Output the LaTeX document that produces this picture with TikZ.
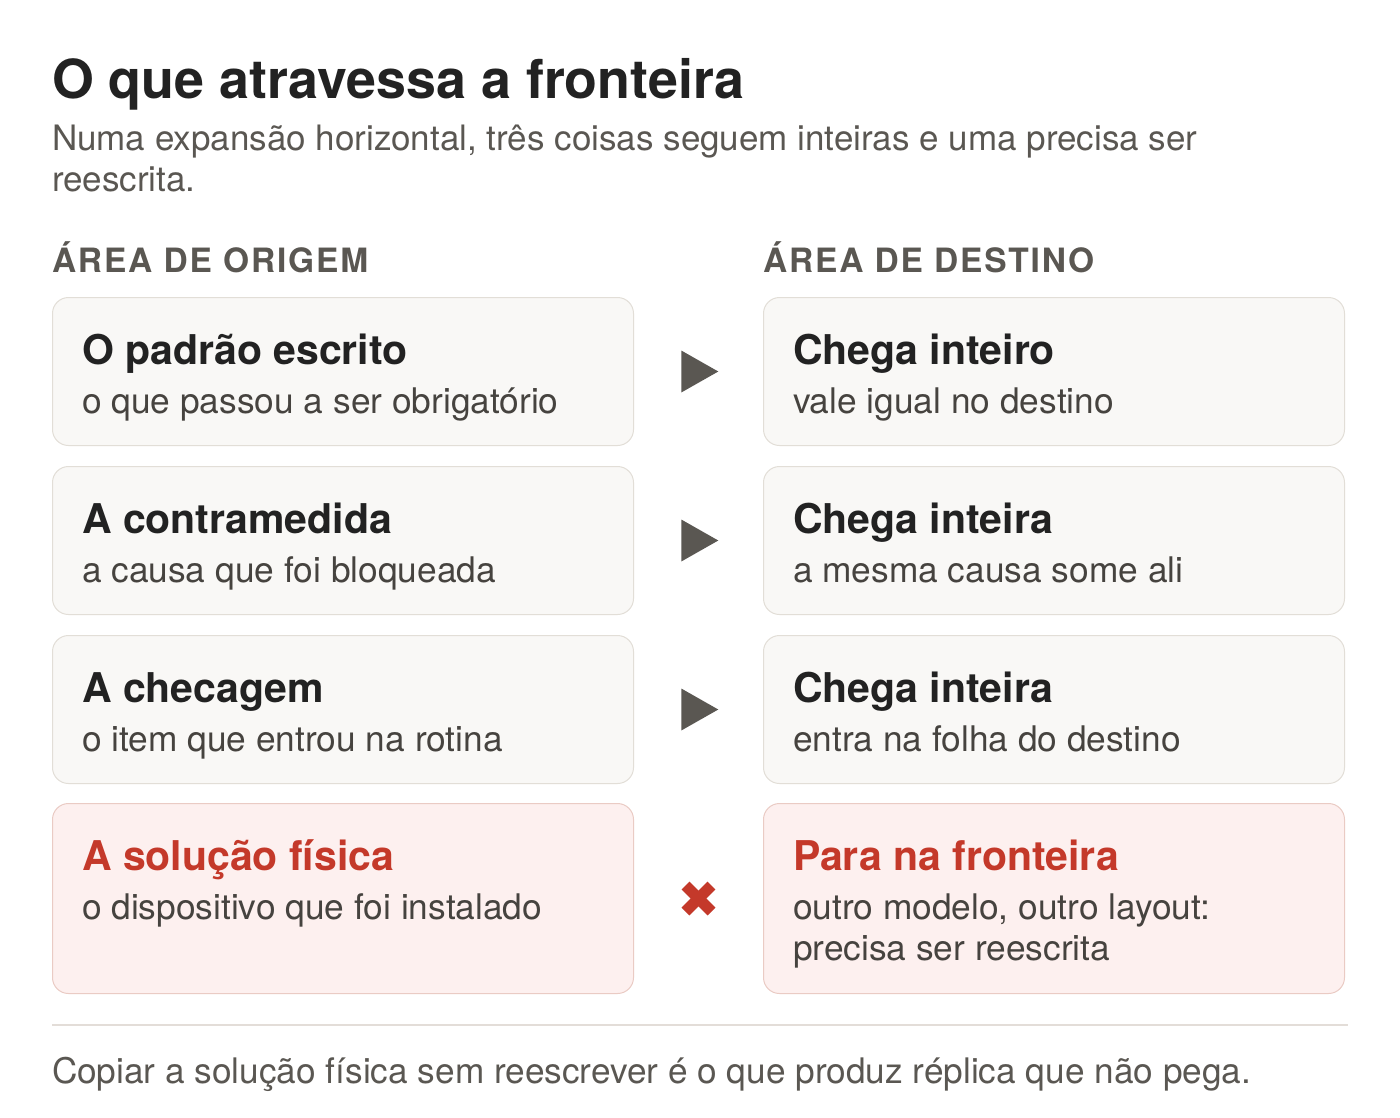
\documentclass[tikz,border=0pt]{standalone}
\usepackage{fontspec}
\setmainfont{TeX Gyre Heros}
\usetikzlibrary{positioning,shapes.geometric,calc}

\definecolor{ink}{HTML}{222222}
\definecolor{mute}{HTML}{5A5752}
\definecolor{body}{HTML}{46433F}
\definecolor{cardfill}{HTML}{F9F8F6}
\definecolor{cardline}{HTML}{E2DED7}
\definecolor{alarm}{HTML}{C4392A}
\definecolor{alarmfill}{HTML}{FDF0EF}
\definecolor{alarmline}{HTML}{EACBC4}
\definecolor{rule}{HTML}{E3DDD8}

\tikzset{
  card/.style={draw=cardline, fill=cardfill, line width=1pt, rounded corners=16pt,
    minimum width=581pt, anchor=north west, inner sep=0pt},
  cardalarm/.style={card, draw=alarmline, fill=alarmfill},
  txt/.style={anchor=base west, inner sep=0pt, outer sep=0pt},
  titletext/.style={txt, text=ink, font=\fontsize{53.8}{60}\selectfont\bfseries},
  leadtext/.style={txt, text=mute, align=left, font=\fontsize{35}{41}\selectfont},
  coltext/.style={txt, text=mute, font=\fontsize{33.5}{38}\selectfont\bfseries\addfontfeatures{LetterSpace=5.5}},
  cardhead/.style={txt, text=ink, font=\fontsize{41}{48}\selectfont\bfseries},
  cardsub/.style={txt, text=body, align=left, font=\fontsize{35.3}{41}\selectfont},
  passa/.style={isosceles triangle, isosceles triangle stretches, fill=mute, draw=none,
    minimum width=42pt, minimum height=37pt, inner sep=0pt, xshift=-5pt},
  barra/.style={alarm, line width=11pt},
  footertext/.style={txt, text=mute, font=\fontsize{35.2}{41}\selectfont}
}

\begin{document}
\begin{tikzpicture}[x=1pt,y=-1pt]
  \fill[white] (0,0) rectangle (1400,1117);
  \useasboundingbox (0,0) rectangle (1400,1117);

  % cabecalho
  \node[titletext] (titulo) at (52,98) {O que atravessa a fronteira};
  \node[leadtext] (lead) at (52,191) {Numa expansão horizontal, três coisas seguem inteiras e uma precisa ser\\reescrita.};
  \node[coltext] (colorigem) at (52,272) {ÁREA DE ORIGEM};
  \node[coltext] (coldestino) at (763,272) {ÁREA DE DESTINO};

  % as tres linhas que atravessam inteiras
  \foreach \i/\ytop/\ot/\os/\dt/\ds in {
      1/297/{O padrão escrito}/{o que passou a ser obrigatório}/{Chega inteiro}/{vale igual no destino},
      2/466/{A contramedida}/{a causa que foi bloqueada}/{Chega inteira}/{a mesma causa some ali},
      3/635/{A checagem}/{o item que entrou na rotina}/{Chega inteira}/{entra na folha do destino}}{
    \node[card, minimum height=148pt] (o\i) at (52,\ytop) {};
    \node[card, minimum height=148pt] (d\i) at (763,\ytop) {};
    \node[cardhead] (o\i h) at ($(o\i.north west)+(30,67)$) {\ot};
    \node[cardsub] (o\i s) at ($(o\i.north west)+(30,116)$) {\os};
    \node[cardhead] (d\i h) at ($(d\i.north west)+(30,67)$) {\dt};
    \node[cardsub] (d\i s) at ($(d\i.north west)+(30,116)$) {\ds};
    \node[passa] (p\i) at ($(o\i.east)!0.5!(d\i.west)$) {};
  }

  % a linha que para na fronteira
  \node[cardalarm, minimum height=190pt] (o4) at (52,803) {};
  \node[cardalarm, minimum height=190pt] (d4) at (763,803) {};
  \node[cardhead, text=alarm] (o4h) at ($(o4.north west)+(30,67)$) {A solução física};
  \node[cardsub] (o4s) at ($(o4.north west)+(30,116)$) {o dispositivo que foi instalado};
  \node[cardhead, text=alarm] (d4h) at ($(d4.north west)+(30,67)$) {Para na fronteira};
  \node[cardsub] (d4s) at ($(d4.north west)+(30,157)$) {outro modelo, outro layout:\\precisa ser reescrita};
  \coordinate (x4) at ($(o4.east)!0.5!(d4.west)$);
  \draw[barra] ($(x4)+(-13,-13)$) -- ($(x4)+(13,13)$);
  \draw[barra] ($(x4)+(-13,13)$) -- ($(x4)+(13,-13)$);

  % rodape
  \coordinate (ruleL) at (52,1025);
  \coordinate (ruleR) at (1348,1025);
  \draw[rule, line width=1.5pt] (ruleL) -- (ruleR);
  \node[footertext] (nota) at (52,1083) {Copiar a solução física sem reescrever é o que produz réplica que não pega.};
\end{tikzpicture}
\end{document}
